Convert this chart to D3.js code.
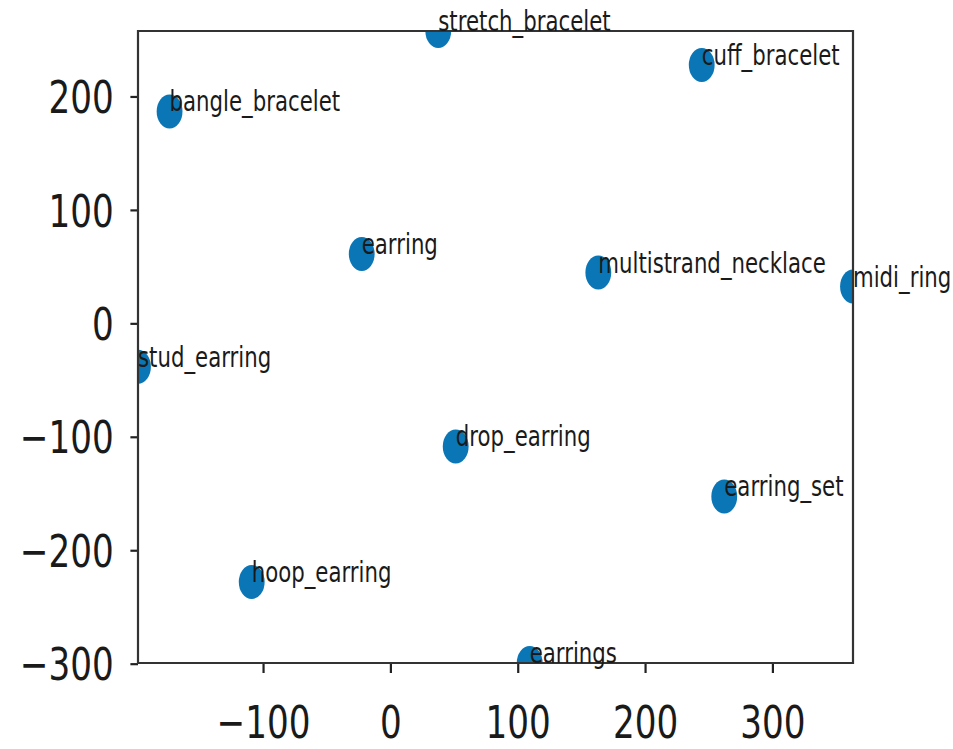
<!DOCTYPE html>
<html>
<head>
<meta charset="utf-8">
<script src="https://d3js.org/d3.v7.min.js"></script>
<style>
  html, body { margin: 0; padding: 0; background: #fff; }
  svg { display: block; }
</style>
</head>
<body>
<script>
// 2-D embedding of jewellery product terms
const terms = ["stretch_bracelet", "cuff_bracelet", "bangle_bracelet", "earring",
  "multistrand_necklace", "midi_ring", "stud_earring", "drop_earring",
  "earring_set", "hoop_earring", "earrings"];
const xValues = [37.5, 244.4, -173.5, -22.6, 163.2, 363.2, -198.3, 51.2, 262.1, -109.0, 109.3];
const yValues = [257.7, 227.8, 186.8, 61.2, 44.8, 32.4, -38.3, -108.5, -152.6, -228.0, -299.4];
const xTicks = [-100, 0, 100, 200, 300];
const yTicks = [-300, -200, -100, 0, 100, 200];

const W = 953, H = 749;
const squeeze = 0.76;               // horizontal squeeze of the whole figure
const VW = W / squeeze;

const svg = d3.select("body").append("svg")
  .attr("width", W).attr("height", H)
  .attr("viewBox", `0 0 ${VW} ${H}`)
  .attr("preserveAspectRatio", "none");

const plotLeft = 138 / squeeze, plotRight = 853 / squeeze, plotTop = 31, plotBottom = 663;

const x = d3.scaleLinear().domain(d3.extent(xValues)).range([plotLeft, plotRight]);
const y = d3.scaleLinear().domain(d3.extent(yValues)).range([plotBottom, plotTop]);

svg.append("defs").append("clipPath").attr("id", "plot-clip")
  .append("rect").attr("x", plotLeft).attr("y", plotTop)
  .attr("width", plotRight - plotLeft).attr("height", plotBottom - plotTop);

const font = "DejaVu Sans, sans-serif";

// y axis
const gy = svg.append("g").attr("transform", `translate(${plotLeft},0)`)
  .call(d3.axisLeft(y).tickValues(yTicks).tickSize(10).tickPadding(22).tickFormat(d3.format("d")));
gy.select(".domain").remove();
gy.selectAll(".tick line").attr("stroke", "#222").attr("stroke-width", 2.2)
  .attr("vector-effect", "non-scaling-stroke");
gy.selectAll(".tick text").attr("font-family", font).attr("font-size", 45)
  .attr("fill", "#1a1a1a").attr("dy", "0.36em");

// x axis
const gx = svg.append("g").attr("transform", `translate(0,${plotBottom})`)
  .call(d3.axisBottom(x).tickValues(xTicks).tickSize(10).tickPadding(10).tickFormat(d3.format("d")));
gx.select(".domain").remove();
gx.selectAll(".tick line").attr("stroke", "#222").attr("stroke-width", 2.2)
  .attr("vector-effect", "non-scaling-stroke");
gx.selectAll(".tick text").attr("font-family", font).attr("font-size", 45)
  .attr("fill", "#1a1a1a").attr("dy", "1.22em");

// points
svg.append("g").attr("clip-path", "url(#plot-clip)")
  .selectAll("circle").data(terms).join("circle")
  .attr("cx", (d, i) => x(xValues[i]))
  .attr("cy", (d, i) => y(yValues[i]))
  .attr("r", 17)
  .attr("fill", "#0b76b5");

// frame
svg.append("rect")
  .attr("x", plotLeft).attr("y", plotTop)
  .attr("width", plotRight - plotLeft).attr("height", plotBottom - plotTop)
  .attr("fill", "none").attr("stroke", "#333").attr("stroke-width", 2.2)
  .attr("vector-effect", "non-scaling-stroke");

// term labels
svg.append("g").selectAll("text").data(terms).join("text")
  .attr("x", (d, i) => x(xValues[i]))
  .attr("y", (d, i) => y(yValues[i]))
  .attr("font-family", font).attr("font-size", 28)
  .attr("fill", "#1a1a1a")
  .text(d => d);
</script>
</body>
</html>
